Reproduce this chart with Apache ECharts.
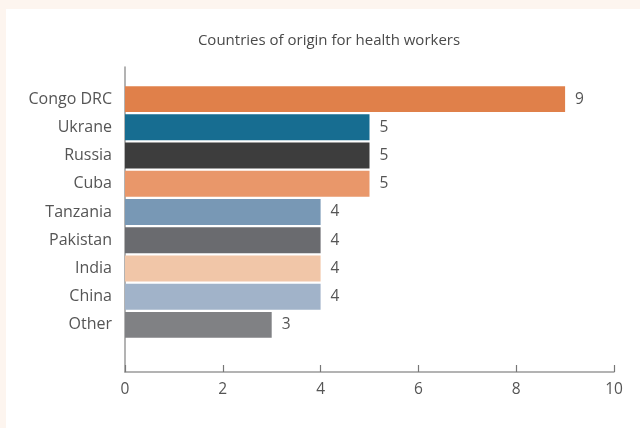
<!DOCTYPE html>
<html><head><meta charset="utf-8">
<script src="https://cdn.jsdelivr.net/npm/echarts@6/dist/echarts.min.js"></script>
<style>html,body{margin:0;padding:0;background:#fdf5ef;}#c{width:640px;height:428px;}</style>
</head><body><div id="c"></div>
<script>
const title = 'Countries of origin for health workers';
const categories = ['Congo DRC','Ukrane','Russia','Cuba','Tanzania','Pakistan','India','China','Other'];
const values = [9,5,5,5,4,4,4,4,3];
const colors = ['#e0804a','#176d91','#3d3d3d','#e9976a','#7898b5','#6a6b6f','#f1c6a8','#a1b3c9','#808184'];
const xTicks = [0,2,4,6,8,10];

const font = 'Open Sans';
const chart = echarts.init(document.getElementById('c'), null, {renderer:'canvas'});
chart.setOption({
  backgroundColor: '#fdf5ef',
  graphic: [{type:'rect', shape:{x:6,y:9,width:640,height:430}, style:{fill:'#ffffff'}, z:-10}],
  title: {text: title, left: 324, top: 28, textAlign:'center',
    textStyle:{fontFamily:font, fontSize:15, fontWeight:'normal', color:'#4a4a4a'}},
  grid: [
    {left:125, right:26, top:85, bottom:89},
    {left:125, right:26, top:67, bottom:56}
  ],
  xAxis: [
    {gridIndex:0, type:'value', min:0, max:10, interval:2, show:false},
    {gridIndex:1, type:'value', min:0, max:10, interval:2,
      axisLine:{show:true, lineStyle:{color:'#9a9a9a', width:1.5}},
      axisTick:{show:true, inside:true, length:7, lineStyle:{color:'#777', width:1.2}},
      splitLine:{show:false},
      axisLabel:{fontFamily:font, fontSize:15.5, color:'#555', margin:10,
        formatter: v => xTicks.includes(v) ? String(v) : ''}}
  ],
  yAxis: [
    {gridIndex:0, type:'category', data:categories, inverse:true,
      axisLine:{show:false}, axisTick:{show:false},
      axisLabel:{fontFamily:font, fontSize:16, color:'#555', margin:13}},
    {gridIndex:1, type:'value', min:0, max:1,
      axisLine:{show:true, lineStyle:{color:'#9a9a9a', width:1.5}},
      axisTick:{show:false}, axisLabel:{show:false}, splitLine:{show:false}}
  ],
  series: [{
    type:'bar', xAxisIndex:0, yAxisIndex:0,
    data: values.map((v,i)=>({value:v, itemStyle:{color:colors[i]}})),
    barCategoryGap:'8%',
    label:{show:true, position:'right', distance:10, fontFamily:font, fontSize:15.5, color:'#555'},
    animation:false
  }],
  animation:false
});
</script></body></html>
